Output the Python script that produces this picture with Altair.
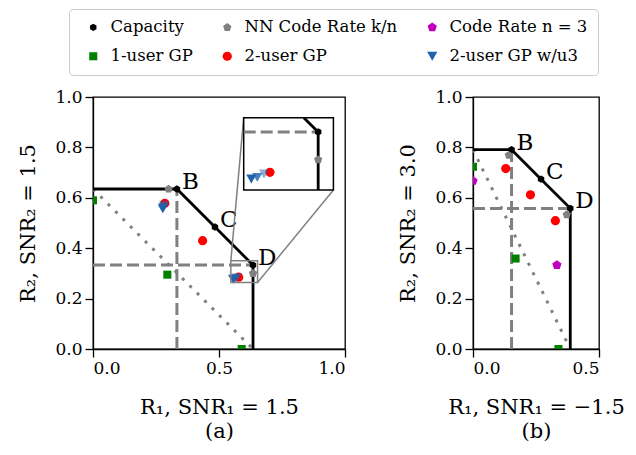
import altair as alt
import pandas as pd

# ---------------- data ----------------
# legend order (filled column by column: 2 rows x 3 columns)
SERIES = ["Capacity", "1-user GP", "NN Code Rate k/n", "2-user GP",
          "Code Rate n = 3", "2-user GP w/u3"]
SERIES_COLORS = ["#000000", "#008000", "#808080", "#ff0000", "#bf00bf", "#1f62ad"]
HEXAGON = "M0,-1L0.866,-0.5L0.866,0.5L0,1L-0.866,0.5L-0.866,-0.5Z"
PENTAGON = "M0,-1L0.951,-0.309L0.588,0.809L-0.588,0.809L-0.951,-0.309Z"
SERIES_SHAPES = [HEXAGON, "square", PENTAGON, "circle", PENTAGON, "triangle-down"]
SERIES_SIZES = [55, 105, 140, 100, 140, 125]

# panel (a): SNR1 = 1.5, SNR2 = 1.5
cap_a_x = [0.0, 0.333, 0.484, 0.635, 0.635]
cap_a_y = [0.635, 0.635, 0.484, 0.333, 0.0]
corner_labels = ["B", "C", "D"]
nn_a_x = [0.300, 0.635]
nn_a_y = [0.635, 0.300]
one_a_x = [0.0, 0.295, 0.590]
one_a_y = [0.590, 0.295, 0.0]
two_a_x = [0.285, 0.435, 0.578]
two_a_y = [0.578, 0.430, 0.285]
u3_a_x = [0.277, 0.279, 0.283, 0.556, 0.563, 0.571]
u3_a_y = [0.556, 0.563, 0.571, 0.277, 0.279, 0.283]
u3_a_alpha = [1.0, 0.8, 0.5, 1.0, 0.8, 0.5]

# panel (b): SNR1 = -1.5, SNR2 = 3.0
cap_b_x = [0.0, 0.153, 0.270, 0.386, 0.386]
cap_b_y = [0.791, 0.791, 0.674, 0.558, 0.0]
nn_b_x = [0.142, 0.372]
nn_b_y = [0.769, 0.533]
rate3_b_x = [0.0, 0.333]
rate3_b_y = [0.667, 0.333]
one_b_x = [0.0, 0.169, 0.339]
one_b_y = [0.723, 0.359, 0.0]
two_b_x = [0.130, 0.228, 0.327]
two_b_y = [0.716, 0.612, 0.509]

y_ticks = [0.0, 0.2, 0.4, 0.6, 0.8, 1.0]
x_ticks_a = [0.0, 0.5, 1.0]
x_ticks_b = [0.0, 0.5]

# zoomed region and inset placement for panel (a) (data units)
ZOOM_X = [0.547, 0.653]
ZOOM_Y = [0.264, 0.350]
INSET_X = [0.598, 0.954]
INSET_Y = [0.631, 0.918]

# ---------------- layout ----------------
H = 252
W_A = 252
W_B = 126
FONT = "DejaVu Serif"
GRAY = "#808080"

legend = alt.Legend(
    title=None, orient="none", legendX=-24, legendY=-88, columns=3,
    labelFont=FONT, labelFontSize=16.5, labelColor="black", labelLimit=400,
    symbolOpacity=1, symbolStrokeWidth=0, strokeColor="#cccccc",
    fillColor="white", cornerRadius=4, padding=10, rowPadding=12,
    columnPadding=20, symbolOffset=6, labelOffset=9,
)


def series_enc():
    return dict(
        color=alt.Color("series:N", scale=alt.Scale(domain=SERIES, range=SERIES_COLORS), legend=legend),
        shape=alt.Shape("series:N", scale=alt.Scale(domain=SERIES, range=SERIES_SHAPES), legend=legend),
        size=alt.Size("series:N", scale=alt.Scale(domain=SERIES, range=SERIES_SIZES), legend=legend),
        opacity=alt.Opacity("alpha:Q", scale=None, legend=None),
    )


def points_df(groups):
    rows = []
    for series, xs, ys, alphas in groups:
        for i, (x, y) in enumerate(zip(xs, ys)):
            rows.append({"x": x, "y": y, "series": series,
                         "alpha": alphas[i] if alphas else 1.0})
    return pd.DataFrame(rows)


def lines_df(polylines):
    rows = []
    for s, (xs, ys) in enumerate(polylines):
        for i, (x, y) in enumerate(zip(xs, ys)):
            rows.append({"x": x, "y": y, "seg": s, "i": i})
    return pd.DataFrame(rows)


def clip_polyline(xs, ys, x0, x1, y0, y1):
    segs = []
    for k in range(len(xs) - 1):
        ax, ay, bx, by = xs[k], ys[k], xs[k + 1], ys[k + 1]
        dx, dy = bx - ax, by - ay
        t0, t1, ok = 0.0, 1.0, True
        for p, q in ((-dx, ax - x0), (dx, x1 - ax), (-dy, ay - y0), (dy, y1 - ay)):
            if p == 0:
                if q < 0:
                    ok = False
                    break
            else:
                t = q / p
                if p < 0:
                    if t > t1:
                        ok = False
                        break
                    t0 = max(t0, t)
                else:
                    if t < t0:
                        ok = False
                        break
                    t1 = min(t1, t)
        if ok and t1 > t0:
            segs.append(([ax + t0 * dx, ax + t1 * dx], [ay + t0 * dy, ay + t1 * dy]))
    return segs


def guide_lines(cx, cy):
    dashed = [([0.0, cx[3]], [cy[3], cy[3]]), ([cx[1], cx[1]], [0.0, cy[1]])]
    dotted = [([0.0, cx[-1]], [cy[0], 0.0])]
    return dashed, dotted


def line_layer(df, xs, ys, xax, yax, **mark):
    return alt.Chart(df).mark_line(clip=True, **mark).encode(
        x=alt.X("x:Q", scale=xs, axis=xax),
        y=alt.Y("y:Q", scale=ys, axis=yax),
        detail="seg:N", order="i:Q",
    )


def point_layer(df, xs, ys, xax, yax):
    return alt.Chart(df).mark_point(filled=True, clip=True, strokeWidth=0).encode(
        x=alt.X("x:Q", scale=xs, axis=xax),
        y=alt.Y("y:Q", scale=ys, axis=yax),
        **series_enc(),
    )


def panel(cx, cy, point_groups, xdom, xticks, width, xtitle, ytitle, inset=False):
    xs = alt.Scale(domain=xdom, nice=False, zero=False)
    ys = alt.Scale(domain=[0, 1], nice=False, zero=False)
    xax = alt.Axis(values=xticks, format=".1f", title=xtitle, labelPadding=3,
                   titlePadding=20, titleLineHeight=24)
    yax = alt.Axis(values=y_ticks, format=".1f", title=ytitle, labelPadding=3,
                   titlePadding=16)
    dashed, dotted = guide_lines(cx, cy)
    cap_marks = points_df([("Capacity", cx[1:4], cy[1:4], None)])
    pts = points_df(point_groups)
    lab = pd.DataFrame({"x": cx[1:4], "y": cy[1:4], "label": corner_labels})

    layers = [
        line_layer(lines_df(dotted), xs, ys, xax, yax, color=GRAY, strokeWidth=3,
                   strokeDash=[3, 7.5]),
        line_layer(lines_df(dashed), xs, ys, xax, yax, color=GRAY, strokeWidth=3,
                   strokeDash=[12, 5]),
        line_layer(lines_df([(cx, cy)]), xs, ys, xax, yax, color="black", strokeWidth=2.8),
        point_layer(cap_marks, xs, ys, xax, yax),
        point_layer(pts, xs, ys, xax, yax),
        alt.Chart(lab).mark_text(align="left", baseline="alphabetic", dx=5, dy=0,
                                 font=FONT, fontSize=23, color="black").encode(
            x=alt.X("x:Q", scale=xs, axis=xax), y=alt.Y("y:Q", scale=ys, axis=yax),
            text="label:N"),
    ]
    main = alt.layer(*layers)
    if not inset:
        return main.properties(width=width, height=H)

    # zoom rectangle, connectors and inset frame (main coordinates)
    zrect = pd.DataFrame({"x": [ZOOM_X[0]], "x2": [ZOOM_X[1]], "y": [ZOOM_Y[0]], "y2": [ZOOM_Y[1]]})
    irect = pd.DataFrame({"x": [INSET_X[0]], "x2": [INSET_X[1]], "y": [INSET_Y[0]], "y2": [INSET_Y[1]]})
    conn = lines_df([([ZOOM_X[0], INSET_X[0]], [ZOOM_Y[1], INSET_Y[1]]),
                     ([ZOOM_X[1], INSET_X[1]], [ZOOM_Y[0], INSET_Y[0]])])

    def rect_layer(df, **mark):
        return alt.Chart(df).mark_rect(**mark).encode(
            x=alt.X("x:Q", scale=xs, axis=xax), x2="x2:Q",
            y=alt.Y("y:Q", scale=ys, axis=yax), y2="y2:Q")

    main = alt.layer(
        main,
        rect_layer(zrect, fill=None, fillOpacity=0, stroke=GRAY, strokeWidth=1.5),
        line_layer(conn, xs, ys, xax, yax, color=GRAY, strokeWidth=1.5),
        rect_layer(irect, fill="white", stroke="black", strokeWidth=1.5),
    )

    # inset content with its own scales mapped into the inset frame
    d0, d1 = xdom
    ixs = alt.Scale(domain=ZOOM_X, nice=False, zero=False,
                    range=[(INSET_X[0] - d0) / (d1 - d0) * width,
                           (INSET_X[1] - d0) / (d1 - d0) * width])
    iys = alt.Scale(domain=ZOOM_Y, nice=False, zero=False,
                    range=[H * (1 - INSET_Y[0]), H * (1 - INSET_Y[1])])
    zx0, zx1, zy0, zy1 = ZOOM_X[0], ZOOM_X[1], ZOOM_Y[0], ZOOM_Y[1]

    def clipped(polys):
        out = []
        for pxs, pys in polys:
            out += clip_polyline(pxs, pys, zx0, zx1, zy0, zy1)
        return out

    def inside(df):
        return df[(df.x >= zx0) & (df.x <= zx1) & (df.y >= zy0) & (df.y <= zy1)]

    inner = alt.layer(
        line_layer(lines_df(clipped(dashed)), ixs, iys, None, None, color=GRAY,
                   strokeWidth=3, strokeDash=[12, 5]),
        line_layer(lines_df(clipped([(cx, cy)])), ixs, iys, None, None, color="black",
                   strokeWidth=2.8),
        point_layer(inside(cap_marks), ixs, iys, None, None),
        point_layer(inside(pts), ixs, iys, None, None),
    )
    return alt.layer(main, inner).resolve_scale(x="independent", y="independent").properties(
        width=width, height=H)


panel_a = panel(
    cap_a_x, cap_a_y,
    [("NN Code Rate k/n", nn_a_x, nn_a_y, None),
     ("1-user GP", one_a_x, one_a_y, None),
     ("2-user GP", two_a_x, two_a_y, None),
     ("2-user GP w/u3", u3_a_x, u3_a_y, u3_a_alpha)],
    [0, 1], x_ticks_a, W_A,
    ["R₁, SNR₁ = 1.5", "(a)"], "R₂, SNR₂ = 1.5", inset=True)

panel_b = panel(
    cap_b_x, cap_b_y,
    [("NN Code Rate k/n", nn_b_x, nn_b_y, None),
     ("Code Rate n = 3", rate3_b_x, rate3_b_y, None),
     ("1-user GP", one_b_x, one_b_y, None),
     ("2-user GP", two_b_x, two_b_y, None)],
    [0, 0.5], x_ticks_b, W_B,
    ["R₁, SNR₁ = −1.5", "(b)"], "R₂, SNR₂ = 3.0")

chart = alt.hconcat(panel_a, panel_b, spacing=50).properties(
    padding={"left": 9, "top": 0, "right": 0, "bottom": 0}
).configure_view(
    stroke="black", strokeWidth=1.3
).configure_axis(
    labelFont=FONT, titleFont=FONT, labelFontSize=17, titleFontSize=21,
    titleFontWeight="normal", labelColor="black", titleColor="black",
    domainColor="black", tickColor="black", tickSize=8, grid=False,
    domainWidth=1.3, tickWidth=1.3,
)

chart.save("out.html", embed_options={"renderer": "svg", "actions": False})
